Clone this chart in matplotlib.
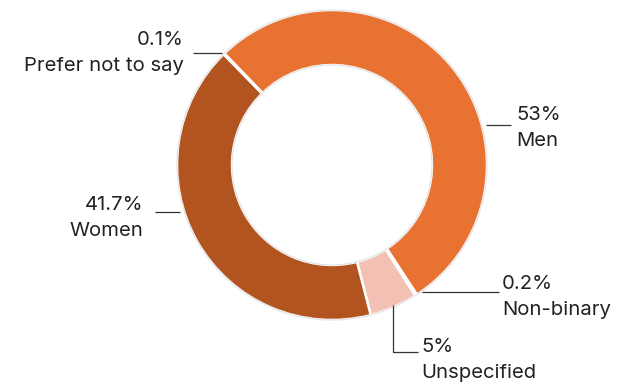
import matplotlib.pyplot as plt
from matplotlib.patches import Circle

# data
labels = ["Men", "Non-binary", "Unspecified", "Women", "Prefer not to say"]
shares = [53.0, 0.2, 5.0, 41.7, 0.1]
pct_text = ["53%", "0.2%", "5%", "41.7%", "0.1%"]
colors = ["#E77232", "#F3D3C6", "#F2C1B3", "#B1541F", "#F6DCCF"]

W, H = 617, 385
fig = plt.figure(figsize=(W / 100, H / 100), dpi=100)
ax = fig.add_axes([0, 0, 1, 1])

cx, cy, r = 332, 165, 155
ring = r * 0.355
# y axis is inverted, so counterclock=True draws clockwise on screen
ax.pie(shares, colors=colors, center=(cx, cy), radius=r,
       startangle=-134, counterclock=True, frame=True,
       wedgeprops=dict(width=ring, edgecolor="white", linewidth=1.8))
for rad in (r, r - ring):
    ax.add_patch(Circle((cx, cy), rad, fill=False, ec="#E2E2E2", lw=0.8))
ax.set_xlim(0, W)
ax.set_ylim(H, 0)
ax.set_aspect("equal")
ax.axis("off")

font = dict(family=["Inter", "DejaVu Sans"], fontsize=14.6, color="#222222")
lc = "#333333"

# label placements: (index, text x, top y, align, leader line points)
placements = [
    (0, 516, 115, "left", [(486, 125), (511, 125)]),
    (1, 502, 284, "left", [(422, 292), (499, 292)]),
    (2, 421, 347, "left", [(393, 305), (393, 352), (418, 352)]),
    (3, 143, 205, "right", [(155, 212), (180, 212)]),
    (4, 184, 40, "right", [(193, 53), (222, 53)]),
]
for i, tx, ty, ha, pts in placements:
    ax.text(tx, ty, pct_text[i], ha=ha, va="center", **font)
    ax.text(tx, ty + 26, labels[i], ha=ha, va="center", **font)
    xs, ys = zip(*pts)
    ax.plot(xs, ys, color=lc, lw=0.9, solid_capstyle="butt")

fig.savefig("out.png", dpi=100)
